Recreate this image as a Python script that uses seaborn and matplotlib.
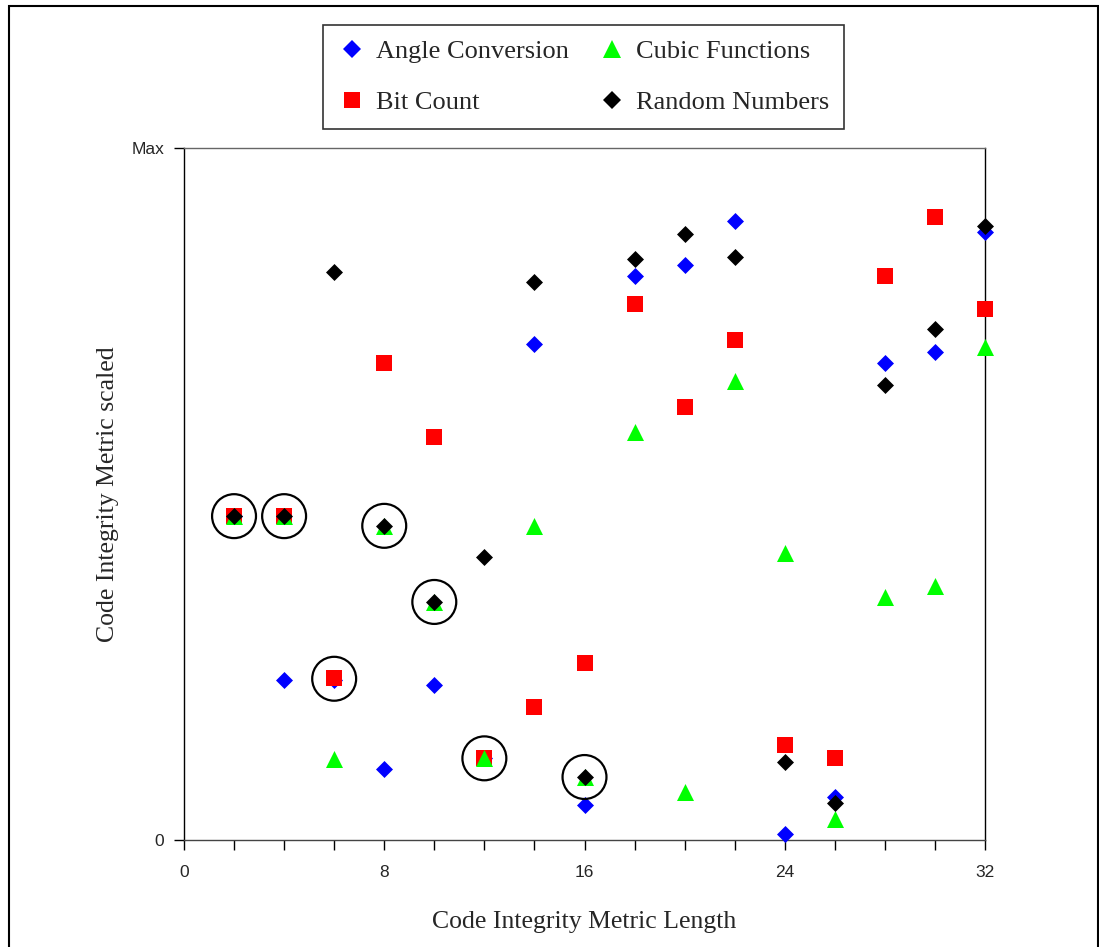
import matplotlib
matplotlib.use("Agg")
import matplotlib.pyplot as plt
import matplotlib.patches as mpatches
from matplotlib.lines import Line2D
import seaborn as sns
import pandas as pd
import numpy as np

# ---- data ----
lengths = [2, 4, 6, 8, 10, 12, 14, 16, 18, 20, 22, 24, 26, 28, 30, 32]
angle_conversion = [46.8, 23.1, 23.1, 10.3, 22.4, 11.8, 71.7, 5.1, 81.5, 83.1, 89.4, 0.9, 6.2, 69.0, 70.5, 87.8]
bit_count = [46.8, 46.8, 23.4, 68.9, 58.2, 11.8, 19.2, 25.6, 77.4, 62.6, 72.2, 13.7, 11.8, 81.5, 90.0, 76.7]
cubic_functions = [46.8, 46.8, 11.7, 45.4, 34.4, 11.8, 45.4, 9.1, 59.0, 6.9, 66.4, 41.5, 3.1, 35.1, 36.7, 71.2]
random_numbers = [46.8, 46.8, 82.1, 45.4, 34.4, 40.9, 80.6, 9.1, 83.9, 87.6, 84.3, 11.2, 5.4, 65.8, 73.9, 88.7]
circled_x = [2, 4, 6, 8, 10, 12, 16]
circled_y = [46.8, 46.8, 23.3, 45.4, 34.4, 11.8, 9.1]
series_names = ["Angle Conversion", "Bit Count", "Cubic Functions", "Random Numbers"]
y_max = 100
x_ticks = [0, 8, 16, 24, 32]

series_values = [angle_conversion, bit_count, cubic_functions, random_numbers]
colors = {"Angle Conversion": "#0000FF", "Bit Count": "#FF0000",
          "Cubic Functions": "#00FF00", "Random Numbers": "#000000"}
markers = {"Angle Conversion": "D", "Bit Count": "s",
           "Cubic Functions": "^", "Random Numbers": "D"}
sizes = {"Angle Conversion": 75, "Bit Count": 117,
         "Cubic Functions": 150, "Random Numbers": 75}

df = pd.DataFrame({
    "Length": np.tile(lengths, len(series_names)),
    "Value": np.concatenate(series_values),
    "Series": np.repeat(series_names, len(lengths)),
})

sns.set_style("white")
plt.rcParams["font.family"] = ["Liberation Serif", "DejaVu Serif"]

fig = plt.figure(figsize=(10.99, 9.47), dpi=100)
ax = fig.add_axes([0.1674, 0.1130, 0.8963 - 0.1674, 0.8437 - 0.1130])

for name in series_names:
    sub = df[df["Series"] == name]
    sns.scatterplot(data=sub, x="Length", y="Value", ax=ax, color=colors[name],
                    marker=markers[name], s=sizes[name], linewidth=0, legend=False,
                    zorder=3, clip_on=False)

# circles around coinciding points
circ = pd.DataFrame({"x": circled_x, "y": circled_y})
sns.scatterplot(data=circ, x="x", y="y", ax=ax, marker="o", s=1000,
                facecolor="none", edgecolor="black", linewidth=1.6, legend=False,
                zorder=4, clip_on=False)

ax.set_xlim(0, 32)
ax.set_ylim(0, y_max)
ax.set_xticks(x_ticks)
ax.set_xticks(np.arange(0, 33, 2), minor=True)
ax.set_yticks([0, y_max])
ax.set_yticklabels(["0", "Max"])
ax.tick_params(axis="both", which="both", direction="out", length=7.2, width=1,
               color="black", labelsize=12.5, bottom=True, left=True)
ax.tick_params(axis="x", which="major", pad=11)
ax.tick_params(axis="y", which="major", pad=7)
for lab in ax.get_xticklabels() + ax.get_yticklabels():
    lab.set_fontfamily(["Liberation Sans Narrow", "Liberation Sans", "DejaVu Sans"])

for side in ["left", "bottom", "top", "right"]:
    ax.spines[side].set_visible(True)
    ax.spines[side].set_color("black")
    ax.spines[side].set_linewidth(1.0)
ax.spines["top"].set_color("#666666")
ax.spines["bottom"].set_color("#444444")

ax.set_xlabel("Code Integrity Metric Length", fontsize=18.5, labelpad=22)
ax.set_ylabel("Code Integrity Metric scaled", fontsize=18.5, labelpad=9)

handles = [Line2D([], [], linestyle="none", marker=markers[n], color=colors[n],
                  markersize=np.sqrt(sizes[n]), markeredgewidth=0) for n in series_names]
leg = fig.legend(handles, series_names, loc="upper center", bbox_to_anchor=(0.531, 0.9736),
                 ncol=2, frameon=True, fancybox=False, fontsize=19, handlelength=1.1,
                 handletextpad=0.36, columnspacing=1.1, labelspacing=1.05,
                 borderpad=0.55, borderaxespad=0, edgecolor="black")
leg.get_frame().set_linewidth(1.2)

# outer border
fig.patches.append(mpatches.Rectangle((0.0085, -0.01), 0.9905, 0.9937 + 0.01,
                                      transform=fig.transFigure, fill=False,
                                      edgecolor="black", linewidth=1.5))

fig.savefig("out.png", dpi=100)
